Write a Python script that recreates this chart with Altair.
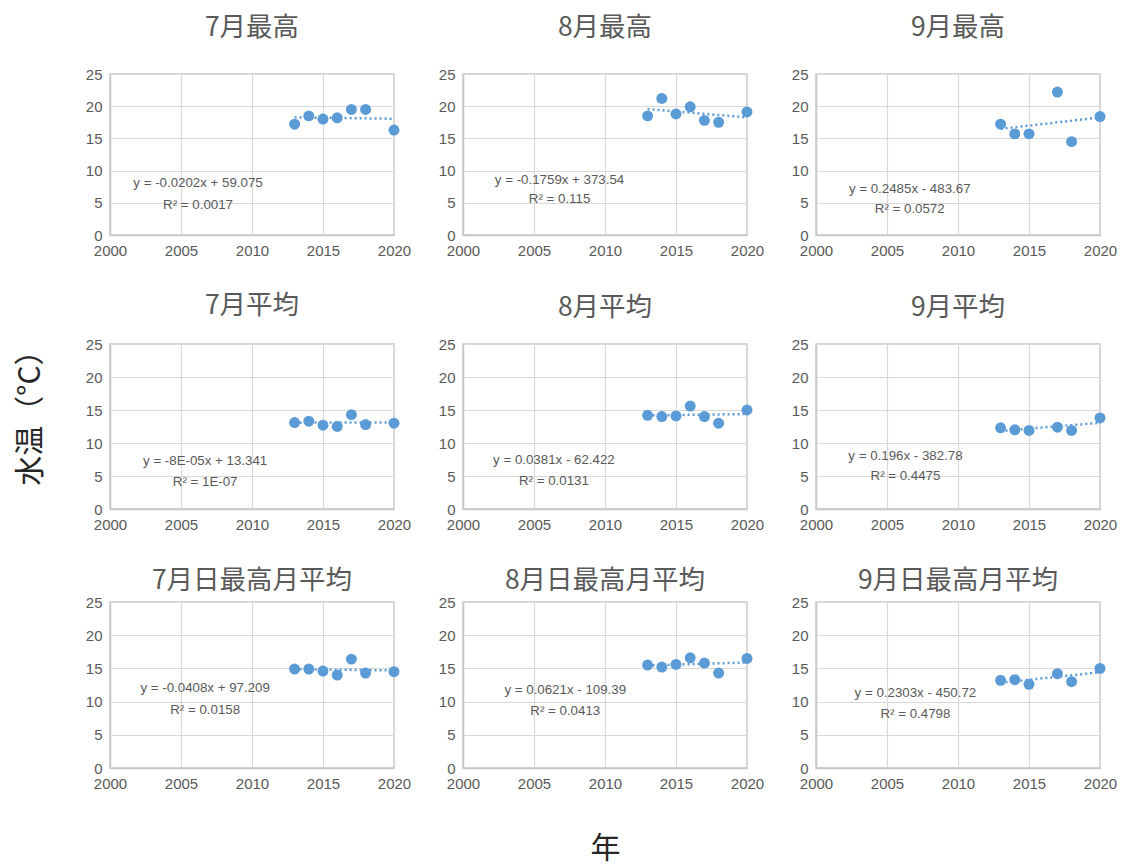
import altair as alt
import pandas as pd

FONT_JP = "Noto Sans CJK JP"
FONT_NUM = "Liberation Sans"
GREY = "#595959"
BLUE = "#5B9BD5"

YEARS_78 = [2013, 2014, 2015, 2016, 2017, 2018, 2020]
YEARS_9 = [2013, 2014, 2015, 2017, 2018, 2020]

titles = ["7月最高", "8月最高", "9月最高",
          "7月平均", "8月平均", "9月平均",
          "7月日最高月平均", "8月日最高月平均", "9月日最高月平均"]

jul_max = [17.2, 18.5, 18.0, 18.2, 19.5, 19.5, 16.3]
aug_max = [18.5, 21.2, 18.8, 19.9, 17.8, 17.5, 19.1]
sep_max = [17.2, 15.7, 15.7, 22.2, 14.5, 18.4]
jul_avg = [13.1, 13.3, 12.7, 12.5, 14.3, 12.8, 13.0]
aug_avg = [14.2, 14.0, 14.1, 15.6, 14.0, 13.0, 15.0]
sep_avg = [12.3, 12.0, 11.9, 12.4, 11.9, 13.8]
jul_dmax = [14.9, 14.9, 14.6, 14.0, 16.4, 14.3, 14.5]
aug_dmax = [15.5, 15.2, 15.6, 16.6, 15.8, 14.3, 16.5]
sep_dmax = [13.2, 13.3, 12.6, 14.2, 13.0, 15.0]

series = [jul_max, aug_max, sep_max, jul_avg, aug_avg, sep_avg, jul_dmax, aug_dmax, sep_dmax]
years = [YEARS_78, YEARS_78, YEARS_9] * 3

equations = ["y = -0.0202x + 59.075", "y = -0.1759x + 373.54", "y = 0.2485x - 483.67",
             "y = -8E-05x + 13.341", "y = 0.0381x - 62.422", "y = 0.196x - 382.78",
             "y = -0.0408x + 97.209", "y = 0.0621x - 109.39", "y = 0.2303x - 450.72"]
r2_texts = ["R² = 0.0017", "R² = 0.115", "R² = 0.0572",
            "R² = 1E-07", "R² = 0.0131", "R² = 0.4475",
            "R² = 0.0158", "R² = 0.0413", "R² = 0.4798"]
# annotation anchor (data coordinates) for equation and R² lines
label_x = [2006.2, 2006.8, 2006.6, 2006.7, 2006.4, 2006.3, 2006.7, 2007.2, 2007.0]
label_y_eq = [8.1, 8.6, 7.2, 7.3, 7.4, 8.1, 12.0, 11.7, 11.3]
label_y_r2 = [4.7, 5.6, 4.1, 4.1, 4.2, 5.0, 8.7, 8.6, 8.1]

X_TICKS = [2000, 2005, 2010, 2015, 2020]
Y_TICKS = [0, 5, 10, 15, 20, 25]
ROW_H = [161, 165, 166]
TITLE_OFFSET = [26, 15.5, 1]


def make_panel(i):
    row, col = divmod(i, 3)
    df = pd.DataFrame({"year": years[i], "value": series[i]})
    lab = pd.DataFrame({"year": [label_x[i], label_x[i]],
                        "value": [label_y_eq[i], label_y_r2[i]],
                        "t": [equations[i], r2_texts[i]]})
    xaxis = alt.Axis(values=X_TICKS, format="d", grid=True, labelFlush=False,
                     title="年" if (row == 2 and col == 1) else None,
                     titleFontSize=30, titleFont=FONT_JP, titleFontWeight="normal",
                     titleColor="#262626", titlePadding=42)
    yaxis = alt.Axis(values=Y_TICKS, grid=True, labelFlush=False,
                     title="水温（°C）" if (row == 1 and col == 0) else None,
                     titleFontSize=30, titleFont=FONT_JP, titleFontWeight="normal",
                     titleColor="#262626", titlePadding=40, titleY=66)
    x = alt.X("year:Q", scale=alt.Scale(domain=[2000, 2020], nice=False, zero=False), axis=xaxis)
    y = alt.Y("value:Q", scale=alt.Scale(domain=[0, 25], nice=False), axis=yaxis)

    trend = alt.Chart(df).transform_regression("year", "value").mark_line(
        color=BLUE, strokeDash=[2, 3], strokeWidth=2.5).encode(x=x, y=y)
    pts = alt.Chart(df).mark_circle(size=120, color=BLUE, opacity=1).encode(x=x, y=y)
    txt = alt.Chart(lab).mark_text(fontSize=13.3, color=GREY, font=FONT_NUM).encode(
        x=x, y=y, text="t:N")
    return alt.layer(trend, pts, txt).properties(
        width=284, height=ROW_H[row],
        title=alt.TitleParams(titles[i], fontSize=26.5, font=FONT_JP, color=GREY,
                              fontWeight="normal", offset=TITLE_OFFSET[row], anchor="middle"))


chart = alt.concat(*[make_panel(i) for i in range(9)], columns=3,
                   spacing={"row": 33, "column": 25}).configure_axis(
    ticks=False, gridColor="#d9d9d9", gridWidth=1.2, domainColor="#c8c8c8", domainWidth=1.5,
    labelColor=GREY, labelFontSize=15, labelFont=FONT_NUM, labelPadding=8
).configure_view(stroke="#c8c8c8", strokeWidth=1.5).properties(
    padding={"left": 6, "top": 5, "right": 0, "bottom": 0}, background="white")

chart.save("out.html", embed_options={"renderer": "svg", "actions": False})
